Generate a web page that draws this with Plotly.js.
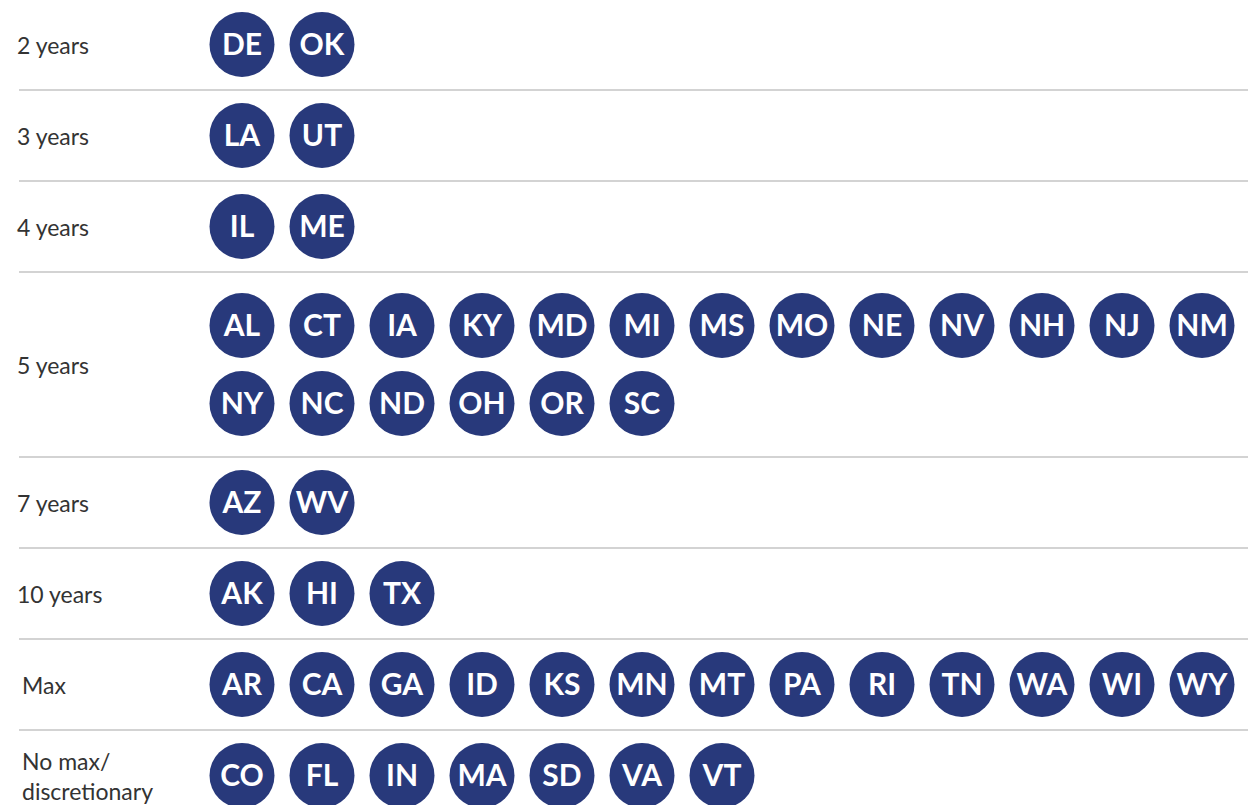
<!DOCTYPE html>
<html>
<head>
<meta charset="utf-8">
<script src="https://cdn.plot.ly/plotly-3.0.1.min.js"></script>
<style>html,body{margin:0;padding:0;background:#fff;}#chart{width:1248px;height:805px;}</style>
</head>
<body>
<div id="chart"></div>
<script>
// ---- data ----
const categories = ['2 years', '3 years', '4 years', '5 years', '7 years', '10 years', 'Max', 'No max/<br>discretionary'];
const states2 = ['DE', 'OK'];
const states3 = ['LA', 'UT'];
const states4 = ['IL', 'ME'];
const states5 = ['AL', 'CT', 'IA', 'KY', 'MD', 'MI', 'MS', 'MO', 'NE', 'NV', 'NH', 'NJ', 'NM', 'NY', 'NC', 'ND', 'OH', 'OR', 'SC'];
const states7 = ['AZ', 'WV'];
const states10 = ['AK', 'HI', 'TX'];
const statesMax = ['AR', 'CA', 'GA', 'ID', 'KS', 'MN', 'MT', 'PA', 'RI', 'TN', 'WA', 'WI', 'WY'];
const statesNoMax = ['CO', 'FL', 'IN', 'MA', 'SD', 'VA', 'VT'];
const groups = [states2, states3, states4, states5, states7, states10, statesMax, statesNoMax];

// ---- layout constants ----
const W = 1248, H = 805;
const perLine = 13;
const groupH = 91;       // height of a one-line group
const extraLineH = 94;   // extra height per added line
const linePitch = 78;    // vertical distance between lines within a group
const colPitch = 80, firstCol = 242;
const textShift = 3;     // visual nudge of state text downward
const labelIndent = [15, 15, 15, 15, 15, 15, 20, 20];

const xs = [], ys = [], yt = [], txt = [];
const shapes = [], annotations = [];
let groupTop = -1;
groups.forEach((g, gi) => {
  const nLines = Math.ceil(g.length / perLine);
  const h = groupH + extraLineH * (nLines - 1);
  const center = groupTop + h / 2;
  g.forEach((s, i) => {
    const line = Math.floor(i / perLine), col = i % perLine;
    const y = center + (line - (nLines - 1) / 2) * linePitch;
    xs.push(firstCol + colPitch * col);
    ys.push(y);
    yt.push(y + textShift);
    txt.push(s);
  });
  annotations.push({
    xref: 'x', yref: 'y', x: labelIndent[gi], y: center, xanchor: 'left', yanchor: 'middle',
    text: categories[gi], showarrow: false, align: 'left',
    font: {family: 'Lato, "Open Sans", sans-serif', size: 23, color: '#333333'}
  });
  groupTop += h;
  if (gi < groups.length - 1) {
    shapes.push({type: 'line', xref: 'x', yref: 'y', x0: 19, x1: W, y0: groupTop, y1: groupTop,
      line: {color: '#a8a8a8', width: 1.2}});
  }
});

const circles = {
  type: 'scatter', mode: 'markers', x: xs, y: ys, text: txt, hoverinfo: 'text',
  marker: {size: 65, color: '#28397b', line: {width: 0}}
};
const labels = {
  type: 'scatter', mode: 'text', x: xs, y: yt, text: txt, hoverinfo: 'skip',
  textposition: 'middle center',
  textfont: {family: 'Lato, "Open Sans", sans-serif', size: 30, color: '#ffffff', weight: 'bold'}
};

const layout = {
  width: W, height: H, margin: {l: 0, r: 0, t: 0, b: 0},
  paper_bgcolor: '#ffffff', plot_bgcolor: '#ffffff', showlegend: false,
  xaxis: {range: [0, W], visible: false, fixedrange: true},
  yaxis: {range: [H, 0], visible: false, fixedrange: true},
  shapes: shapes, annotations: annotations
};
Plotly.newPlot('chart', [circles, labels], layout, {displayModeBar: false, staticPlot: true});
</script>
</body>
</html>
